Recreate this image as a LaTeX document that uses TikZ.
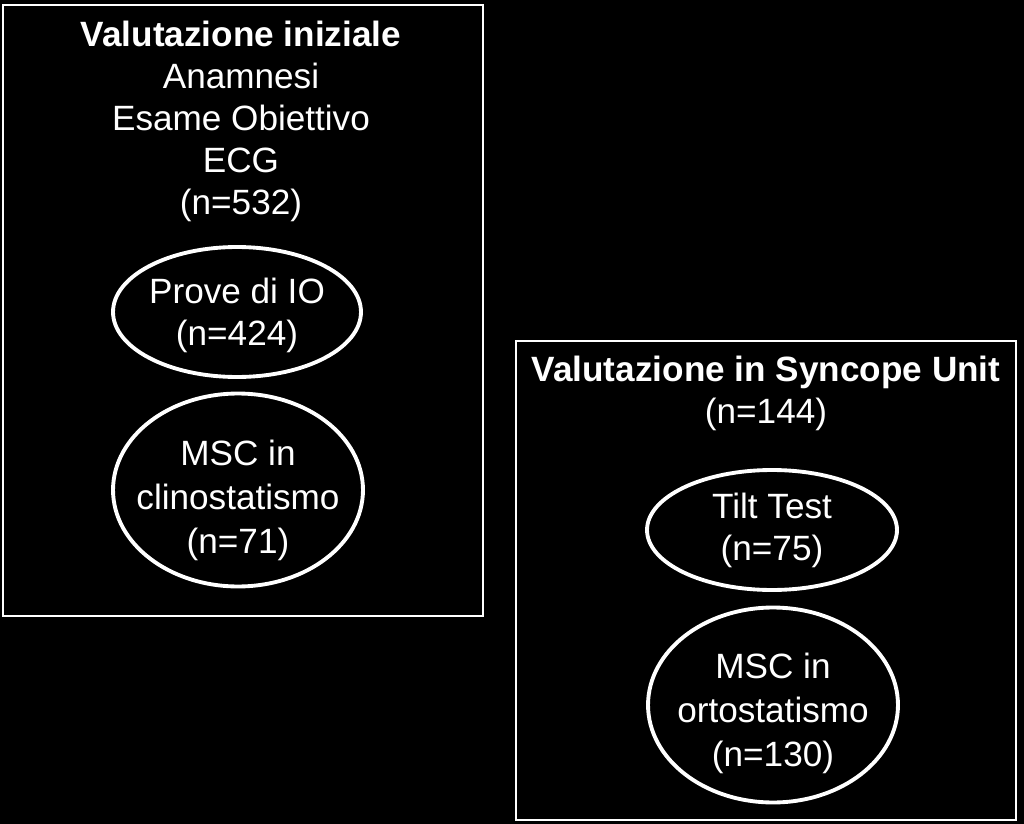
\documentclass[tikz,border=0pt]{standalone}
\usepackage{fontspec}
\setmainfont{Liberation Sans}
\usetikzlibrary{shapes.geometric}

\begin{document}
\begin{tikzpicture}[x=0.02cm,y=-0.02cm]
			            \tikzset{
				            panel/.style={draw=white, line width=0.9pt},
				            oval/.style={ellipse, draw=white, line width=2.2pt, inner sep=0pt},
				            label/.style={text=white, align=center, inner sep=0pt, font=\fontsize{20}{23.8}\selectfont},
				            label3/.style={label, font=\fontsize{20}{25}\selectfont}
			            }

			            \fill[black] (0,0) rectangle (1024,824);
			            \useasboundingbox (0,0) rectangle (1024,824);

			            \draw[panel] (3,5) rectangle (483,616);
			            \draw[panel] (516,341) rectangle (1016,820);

			            \node[label, anchor=north] (txt1) at (241,21){\textbf{Valutazione iniziale}\\Anamnesi\\Esame Obiettivo\\ECG\\(n=532)};
			            \node[label, anchor=north] (txt2) at (766,356){\textbf{Valutazione in Syncope Unit}\\(n=144)};

			            \node[oval, minimum width=4.96cm, minimum height=2.6cm] (ell1) at (237,312){};
			            \node[oval, minimum width=5cm, minimum height=3.86cm] (ell2) at (238,490){};
			            \node[oval, minimum width=5cm, minimum height=2.4cm] (ell3) at (772,530){};
			            \node[oval, minimum width=5cm, minimum height=3.9cm] (ell4) at (773,705){};

			            \node[label] (txt3) at (237,315){Prove di IO\\(n=424)};
			            \node[label3] (txt4) at (238,500){MSC in\\clinostatismo\\(n=71)};
			            \node[label] (txt5) at (772,530){Tilt Test\\(n=75)};
			            \node[label3] (txt6) at (773,713){MSC in\\ortostatismo\\(n=130)};
		            \end{tikzpicture}
\end{document}
